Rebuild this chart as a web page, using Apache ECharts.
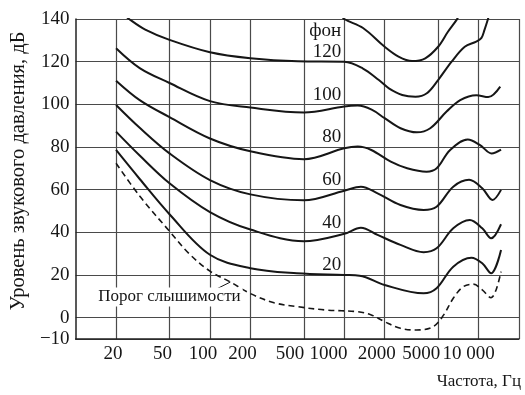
<!DOCTYPE html>
<html>
<head>
<meta charset="utf-8">
<script src="https://cdn.jsdelivr.net/npm/echarts@6/dist/echarts.min.js"></script>
<style>
  html, body { margin: 0; padding: 0; background: #fff; }
  #chart { width: 525px; height: 395px; }
</style>
</head>
<body>
<div id="chart"></div>
<script>
// сетка и подписи осей
const gridFreqs = [20, 50, 100, 200, 500, 1000, 2000, 5000, 10000, 20000];
const tickLabels = ['20', '50', '100', '200', '500', '1000', '2000', '5000', '10 000'];
const dbTicks = [-10, 0, 20, 40, 60, 80, 100, 120, 140];

// кривые равной громкости: [частота, Гц; уровень, дБ]
const phon140 = [[950, 142], [1000, 140], [1380, 135.8], [2000, 127], [2535, 122.4], [3200, 120.3], [4010, 121.6], [5000, 127], [5915, 134], [6860, 139.6], [7200, 142]];
const phon120 = [[23, 142], [25, 140], [33, 135], [50, 130.2], [100, 124.4], [200, 121.6], [450, 120.2], [1000, 120], [1370, 116.9], [1810, 111.4], [2150, 107.5], [2700, 104.4], [3390, 103.6], [4120, 105.2], [5000, 111.4], [6300, 120], [7890, 127], [9610, 129.4], [10480, 131], [11070, 134.9], [11690, 139.5], [12100, 143]];
const phon100 = [[20, 126.3], [30, 117], [50, 110], [100, 101.5], [200, 98.5], [500, 96.2], [1000, 99], [1260, 99.4], [1600, 97.5], [2000, 93.5], [2625, 88.8], [3470, 86.9], [4370, 88.8], [5780, 96.6], [7300, 102], [9620, 104.3], [11800, 103.4], [14500, 108.3]];
const phon80 = [[20, 111.1], [30, 102], [50, 94], [100, 84], [200, 78], [500, 74.3], [1000, 79.4], [1260, 80.2], [1590, 78.6], [2220, 73.1], [2940, 70], [4100, 68.4], [4880, 70], [6120, 78.5], [8300, 83.5], [10200, 81], [12500, 77], [14700, 78.8]];
const phon60 = [[20, 99.7], [30, 89], [50, 77], [100, 64.5], [200, 57.8], [500, 55], [1000, 59.5], [1330, 61.4], [1770, 58.3], [2620, 52.8], [3900, 50.5], [4870, 52], [6480, 61.4], [8500, 64.6], [10650, 60.7], [12700, 55.2], [14700, 59.9]];
const phon40 = [[20, 87.2], [30, 76], [50, 63], [100, 49.5], [200, 41.3], [500, 35.8], [1000, 39.3], [1330, 42.2], [1770, 38.8], [2620, 34.1], [3900, 30.7], [4870, 32.5], [6480, 41.9], [8600, 45.8], [10650, 41.9], [12400, 37.2], [14700, 43.8]];
const phon20 = [[20, 78.6], [30, 65], [50, 48.5], [100, 29.5], [200, 23.2], [443, 20.8], [1000, 20], [1300, 19.7], [2000, 15.3], [3900, 11.4], [4870, 13.8], [6480, 23.9], [8840, 28.1], [10650, 25.5], [12400, 20.8], [14700, 31.7]];
const threshold = [[20, 72.4], [30, 57], [50, 40.5], [70, 30], [100, 21.8], [142, 16.7], [200, 11.3], [300, 7], [443, 5.2], [720, 3.6], [1260, 2.8], [1590, 1.3], [2000, -1.9], [2620, -5], [3460, -5.8], [4600, -4.2], [5500, 1.3], [6480, 9.1], [7680, 14.5], [9150, 15.7], [10650, 13], [12400, 9.4], [13500, 13], [14700, 21.6]];

const curves = [[140, phon140], [120, phon120], [100, phon100], [80, phon80], [60, phon60], [40, phon40], [20, phon20]];

const font = 'Liberation Serif';
const ink = '#161616';
const lg = Math.log10;
// подписи частот в оригинале стоят левее линий сетки (сдвиг в px, 136 px на декаду)
const labelNudgePx = [-3, -7, -7, -8, -14, -16, -8, -17, -10];
const labelVals = tickLabels.map((t, i) => lg(gridFreqs[i]) + labelNudgePx[i] / 136);

const chart = echarts.init(document.getElementById('chart'));

const series = curves.map(([phon, pts]) => {
    const marks = [];
    if (phon === 120) marks.push({name: 'фон', coord: [lg(950), 134.4]});
    if (phon < 140) marks.push({name: String(phon), coord: [lg(950), phon + 4.5]});
    return {
        type: 'line',
        data: pts.map(p => [lg(p[0]), p[1]]),
        smooth: 0.35,
        symbol: 'none',
        silent: true,
        lineStyle: {color: ink, width: 2},
        markPoint: {
            symbol: 'circle',
            symbolSize: 0,
            silent: true,
            label: {
                show: true, position: 'left', distance: 0, formatter: '{b}',
                fontFamily: font, fontSize: 19, color: ink
            },
            data: marks
        }
    };
});

series.push({
    type: 'line',
    data: threshold.map(p => [lg(p[0]), p[1]]),
    smooth: 0.35,
    symbol: 'none',
    silent: true,
    lineStyle: {color: ink, width: 1.6, type: [6, 4]},
    markLine: {
        silent: true,
        symbol: 'none',
        label: {show: false},
        lineStyle: {color: ink, width: 1, type: 'solid'},
        data: [[{coord: [lg(142), 16.7]}, {coord: [lg(97), 11.5]}]]
    },
    markPoint: {
        symbol: 'circle',
        symbolSize: 0,
        silent: true,
        label: {
            show: true, position: 'inside', formatter: '{b}',
            fontFamily: font, fontSize: 17, color: ink,
            backgroundColor: '#fff', padding: [1, 2]
        },
        data: [{name: 'Порог слышимости', coord: [lg(50), 9.7]}]
    }
});

chart.setOption({
    animation: false,
    backgroundColor: '#fff',
    grid: {left: 71, right: 6, top: 19, bottom: 56},
    xAxis: {
        type: 'value',
        min: 1,
        max: lg(20000),
        name: 'Частота, Гц',
        nameLocation: 'end',
        nameGap: 2,
        nameTextStyle: {
            fontFamily: font, fontSize: 17, color: ink,
            align: 'right', verticalAlign: 'top', padding: [34, 0, 0, 0]
        },
        axisLine: {onZero: false, lineStyle: {color: '#222', width: 1.5}},
        axisTick: {show: false, customValues: gridFreqs.map(lg)},
        axisLabel: {
            customValues: labelVals,
            formatter: v => tickLabels[labelVals.findIndex(x => Math.abs(x - v) < 1e-6)],
            hideOverlap: false,
            showMinLabel: true,
            showMaxLabel: true,
            fontFamily: font, fontSize: 19, color: ink, margin: 6
        },
        splitLine: {show: true, lineStyle: {color: '#4a4a4a', width: 1.2}}
    },
    yAxis: {
        type: 'value',
        min: -10,
        max: 140,
        name: 'Уровень звукового давления, дБ',
        nameLocation: 'middle',
        nameGap: 39,
        nameRotate: 90,
        nameTextStyle: {fontFamily: font, fontSize: 20.5, color: ink, padding: [0, 0, 0, 16]},
        axisLine: {show: true, onZero: false, lineStyle: {color: '#222', width: 1.5}},
        axisTick: {show: false, customValues: dbTicks},
        axisLabel: {
            customValues: dbTicks,
            formatter: v => v < 0 ? '−' + Math.abs(v) : String(v),
            showMinLabel: true,
            showMaxLabel: true,
            fontFamily: font, fontSize: 19, color: ink, margin: 6
        },
        splitLine: {show: true, lineStyle: {color: '#4a4a4a', width: 1.2}}
    },
    series: series
});
</script>
</body>
</html>
